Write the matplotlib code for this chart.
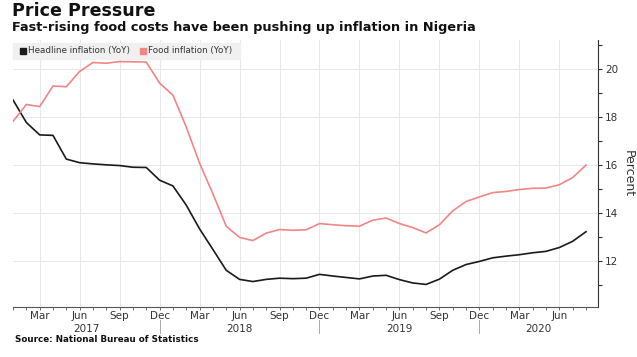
import matplotlib
matplotlib.use("Agg")
import matplotlib.pyplot as plt
from matplotlib.ticker import FixedLocator, MultipleLocator
import matplotlib.transforms as mtransforms

# Monthly data, Jan 2017 .. Aug 2020
months = ["Jan", "Feb", "Mar", "Apr", "May", "Jun", "Jul", "Aug", "Sep", "Oct", "Nov", "Dec"]
years = [2017, 2018, 2019, 2020]
headline = [18.72, 17.78, 17.26, 17.24, 16.25, 16.10, 16.05, 16.01, 15.98, 15.91, 15.90, 15.37,
            15.13, 14.33, 13.34, 12.48, 11.61, 11.23, 11.14, 11.23, 11.28, 11.26, 11.28, 11.44,
            11.37, 11.31, 11.25, 11.37, 11.40, 11.22, 11.08, 11.02, 11.24, 11.61, 11.85, 11.98,
            12.13, 12.20, 12.26, 12.34, 12.40, 12.56, 12.82, 13.22]
food = [17.82, 18.53, 18.44, 19.30, 19.27, 19.91, 20.28, 20.25, 20.32, 20.31, 20.30, 19.42,
        18.92, 17.59, 16.08, 14.80, 13.45, 12.98, 12.85, 13.16, 13.31, 13.28, 13.30, 13.56,
        13.51, 13.47, 13.45, 13.70, 13.79, 13.56, 13.39, 13.17, 13.51, 14.09, 14.48, 14.67,
        14.85, 14.90, 14.98, 15.03, 15.04, 15.18, 15.48, 16.00]
series_names = ["Headline inflation (YoY)", "Food inflation (YoY)"]
tick_months = ["Mar", "Jun", "Sep", "Dec"]
yticks = [12, 14, 16, 18, 20]

BLACK = "#1a1a1a"
RED = "#f28585"

fig = plt.figure(figsize=(6.37, 3.57), dpi=100)
ax = fig.add_axes([13 / 637, 1 - 306.7 / 357, 585 / 637, 266.7 / 357])

x = list(range(len(headline)))
ax.plot(x, headline, color=BLACK, lw=1.2, zorder=3)
ax.plot(x, food, color=RED, lw=1.2, zorder=3)

ax.set_xlim(0, 43.9)
ax.set_ylim(10.09, 21.22)

# x ticks: quarterly labels, monthly minor ticks
tick_pos = [i for i in x if months[i % 12] in tick_months]
ax.xaxis.set_major_locator(FixedLocator(tick_pos))
ax.set_xticklabels([months[i % 12] for i in tick_pos])
ax.xaxis.set_minor_locator(MultipleLocator(1))
ax.tick_params(axis="x", which="both", direction="out", length=2.5, width=0.6,
               color="#555555", labelsize=7.5, labelcolor="#333333", pad=0.5)

# y axis on right
ax.yaxis.tick_right()
ax.yaxis.set_label_position("right")
ax.set_yticks(yticks)
ax.set_yticklabels([str(v) for v in yticks])
ax.yaxis.set_minor_locator(MultipleLocator(1))
ax.tick_params(axis="y", which="both", direction="out", length=3, width=0.8,
               color="#333333", labelsize=7.5, labelcolor="#333333", pad=2)
ax.set_ylabel("Percent", rotation=270, fontsize=9, color="#333333", labelpad=12)

for s in ["top", "left"]:
    ax.spines[s].set_visible(False)
ax.spines["right"].set_color("#333333")
ax.spines["right"].set_linewidth(0.8)
ax.spines["bottom"].set_color("#555555")
ax.spines["bottom"].set_linewidth(0.8)

ax.grid(True, which="major", color="#e8e8e8", lw=0.7, zorder=0)
ax.set_axisbelow(True)

# year separators and labels
trans = mtransforms.blended_transform_factory(ax.transData, ax.transAxes)
seps = [i for i in x if months[i % 12] == "Dec"]
for s in seps:
    ax.plot([s, s], [-0.05, -0.10], transform=trans, color="#aaaaaa", lw=0.7, clip_on=False)
bounds = [0] + seps + [ax.get_xlim()[1]]
for k, yr in enumerate(years):
    ax.text((bounds[k] + bounds[k + 1]) / 2, -0.084, str(yr), transform=trans,
            ha="center", va="center", fontsize=7.5, color="#333333")

# legend box
fig.patches.append(plt.Rectangle((13 / 637, 1 - 59 / 357), 227 / 637, 16 / 357,
                                 transform=fig.transFigure, color="#f0f0f0", zorder=0))
ly = 1 - 51 / 357
fig.patches.append(plt.Rectangle((20 / 637, ly - 3 / 357), 6 / 637, 6 / 357,
                                 transform=fig.transFigure, color=BLACK, zorder=1))
fig.text(28 / 637, ly, series_names[0], fontsize=6.3, color="#333333", va="center")
fig.patches.append(plt.Rectangle((140 / 637, ly - 3 / 357), 6 / 637, 6 / 357,
                                 transform=fig.transFigure, color=RED, zorder=1))
fig.text(148 / 637, ly, series_names[1], fontsize=6.3, color="#333333", va="center")

# titles
fig.text(12 / 637, 1 - 11.5 / 357, "Price Pressure", fontsize=12.6, fontweight="bold",
         color="#111111", va="center")
fig.text(12 / 637, 1 - 27 / 357, "Fast-rising food costs have been pushing up inflation in Nigeria",
         fontsize=9.3, fontweight="bold", color="#111111", va="center")
fig.text(15 / 637, 1 - 340 / 357, "Source: National Bureau of Statistics",
         fontsize=6.3, fontweight="bold", color="#111111", va="center")

fig.savefig("out.png", dpi=100, facecolor="white")
